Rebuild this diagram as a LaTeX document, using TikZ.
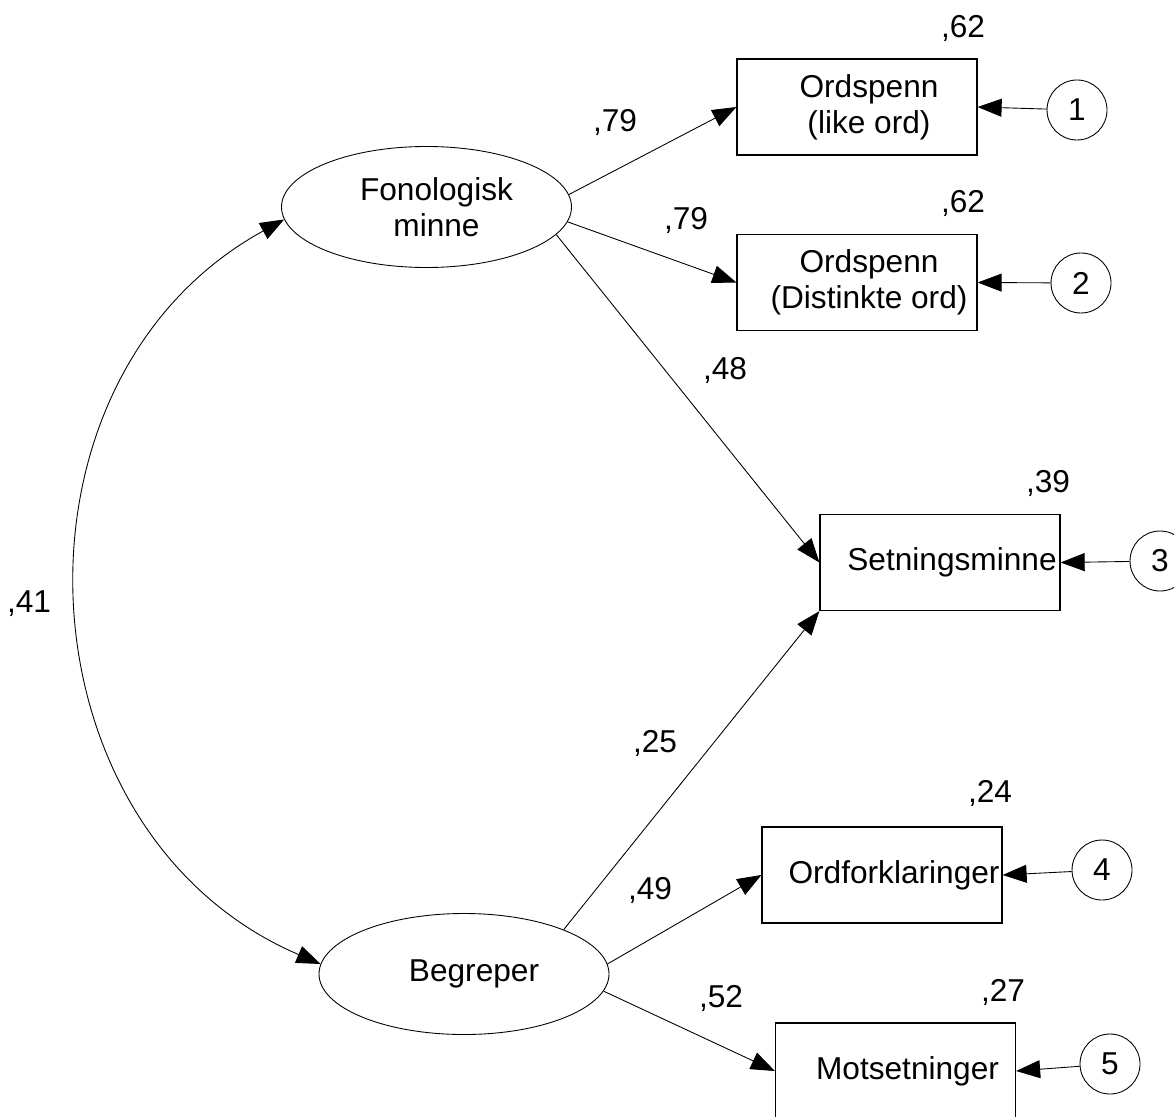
\documentclass[tikz,border=0pt]{standalone}
\usepackage{fontspec}
\setmainfont{Liberation Sans}
\usetikzlibrary{shapes.geometric,arrows.meta}

\tikzset{
    every node/.style={font=\fontsize{18}{20.5}\selectfont},
    latent/.style={draw, ellipse, line width=0.5pt, minimum width=5.8cm, minimum height=2.42cm,
        inner sep=0pt, label={[align=center, xshift=0.2cm]center:#1}},
    obs/.style={draw, rectangle, line width=0.7pt, minimum width=4.8cm, minimum height=1.92cm,
        inner sep=0pt, label={[align=center, xshift=0.24cm]center:#1}},
    err/.style={draw, circle, line width=0.5pt, minimum size=1.2cm, inner sep=0pt},
    load/.style={-{Triangle[length=0.48cm, width=0.36cm]}, line width=0.5pt},
    cov/.style={{Triangle[length=0.48cm, width=0.36cm]}-{Triangle[length=0.48cm, width=0.36cm]}, line width=0.5pt},
}

\begin{document}
\begin{tikzpicture}[x=0.2mm, y=-0.2mm]
        \useasboundingbox (0,0) rectangle (1174,1116);

        % Latente
        \node[latent={Fonologisk\\minne}] (fon) at (426.5,207) {};
        \node[latent={Begreper}] (beg) at (464,974) {};

        % Observerte
        \node[obs={Ordspenn\\(like ord)}] (ord1) at (857,107) {};
        \node[obs={Ordspenn\\(Distinkte ord)}] (ord2) at (857,282.5) {};
        \node[obs={Setningsminne}] (set) at (940,562.5) {};
        \node[obs={Ordforklaringer}] (ordf) at (882,875) {};
        \node[obs={Motsetninger}] (mots) at (895.5,1071) {};

        % Ladninger
        \draw[load] (fon.5) -- (ord1.west);
        \draw[load] (fon.-6) -- (ord2.west);
        \draw[load] (fon.-12) -- (set.west);
        \draw[load] (beg.24) -- (set.south west);
        \draw[load] (beg.4) -- (ordf.west);
        \draw[load] (beg.-7) -- (mots.west);
        \draw[cov] (fon.185) to[bend right=64, looseness=1.14] (beg.176);

        % Feilledd
        \foreach \i/\x/\y/\t in {
            1/1077/110/ord1,
            2/1081/283/ord2,
            3/1160/561/set,
            4/1102/870/ordf,
            5/1110/1064/mots} {
            \node[err] (e\i) at (\x,\y) {\i};
            \draw[load] (e\i) -- (\t.east);
        }

        % Tall
        \foreach \n/\x/\y/\v in {
            a/963/28/{,62},
            b/615/122/{,79},
            c/963/203/{,62},
            d/686/220/{,79},
            e/725/370/{,48},
            f/1048/483/{,39},
            g/29/604/{,41},
            h/655/743/{,25},
            i/990/793/{,24},
            j/650/890/{,49},
            k/721/998/{,52},
            l/1003/992/{,27}} {
            \node (w\n) at (\x,\y) {\v};
        }
    \end{tikzpicture}
\end{document}
